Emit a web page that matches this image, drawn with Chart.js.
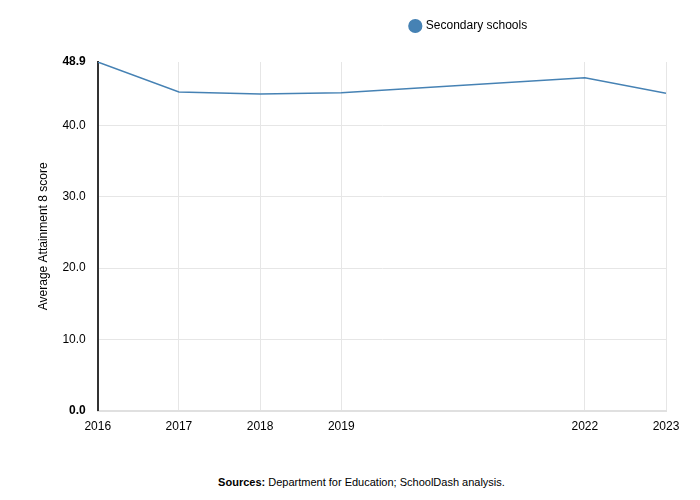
<!DOCTYPE html>
<html>
<head>
<meta charset="utf-8">
<script src="https://cdn.jsdelivr.net/npm/chart.js@4"></script>
<style>
  html, body { margin: 0; padding: 0; height: 500px; overflow: hidden; background: #fff; font-family: "Liberation Sans", Arial, sans-serif; }
  #chartBox { position: relative; width: 700px; height: 443px; }
  #source { width: 723px; margin-top: 32px; line-height: 14px; text-align: center; font-size: 11px; color: #000; }
</style>
</head>
<body>
<div id="chartBox"><canvas id="lineChart"></canvas></div>
<div id="source"><b>Sources:</b> Department for Education; SchoolDash analysis.</div>
<script>
const years = [2016, 2017, 2018, 2019, 2022, 2023];
const scores = [48.9, 44.7, 44.4, 44.6, 46.7, 44.5];
const yTicks = [0, 10, 20, 30, 40, 48.9];
const seriesName = 'Secondary schools';

const points = years.map((y, i) => ({ x: y, y: scores[i] }));

// geser legend ke kanan & beri jarak ke bawah seperti di gambar
const legendShift = {
    id: 'legendShift',
    beforeInit(chart) {
        const lg = chart.legend;
        const fit = lg.fit;
        lg.fit = function() {
            fit.call(this);
            this.height += 20;
        };
    },
    beforeDraw(chart) {
        const lg = chart.legend;
        if (!lg._shifted) {
            lg.left += 119;
            lg.right += 119;
            lg._shifted = true;
        }
    },
    afterUpdate(chart) {
        chart.legend._shifted = false;
    }
};

const ctx = document.getElementById('lineChart').getContext('2d');
const lineChart = new Chart(ctx, {
    type: 'line',
    data: {
        datasets: [{
            label: seriesName,
            data: points,
            borderColor: '#4682b4',
            backgroundColor: '#4682b4',
            borderWidth: 1.5,
            pointRadius: 0,
            tension: 0
        }]
    },
    options: {
        responsive: true,
        maintainAspectRatio: false,
        animation: false,
        layout: { padding: { left: 34, right: 34, top: 2, bottom: 0 } },
        scales: {
            x: {
                type: 'linear',
                min: years[0],
                max: years[years.length - 1],
                afterBuildTicks: axis => { axis.ticks = years.map(v => ({ value: v })); },
                ticks: {
                    color: '#000',
                    font: { family: 'Liberation Sans', size: 12 },
                    padding: 9,
                    maxRotation: 0,
                    callback: v => String(v)
                },
                grid: { color: '#e6e6e6', drawTicks: false },
                border: { color: '#e0e0e0', width: 2 }
            },
            y: {
                min: 0,
                max: 48.9,
                afterBuildTicks: axis => { axis.ticks = yTicks.map(v => ({ value: v })); },
                ticks: {
                    color: '#000',
                    padding: 12,
                    font: c => ({
                        family: 'Liberation Sans',
                        size: 12,
                        weight: (c.tick && (c.tick.value === 0 || c.tick.value === 48.9)) ? 'bold' : 'normal'
                    }),
                    callback: v => Number(v).toFixed(1)
                },
                grid: {
                    drawTicks: false,
                    color: c => (c.tick && c.tick.value === 48.9) ? 'rgba(0,0,0,0)' : '#e6e6e6'
                },
                border: { color: '#333', width: 2 },
                title: {
                    display: true,
                    text: 'Average Attainment 8 score',
                    color: '#000',
                    font: { family: 'Liberation Sans', size: 12 },
                    padding: { top: 2, bottom: 0 }
                }
            }
        },
        plugins: {
            legend: {
                position: 'top',
                labels: {
                    usePointStyle: true,
                    pointStyle: 'circle',
                    boxWidth: 9,
                    boxHeight: 9,
                    color: '#000',
                    font: { family: 'Liberation Sans', size: 12 },
                    padding: 18
                }
            },
            tooltip: { enabled: false }
        }
    },
    plugins: [legendShift]
});
</script>
</body>
</html>
